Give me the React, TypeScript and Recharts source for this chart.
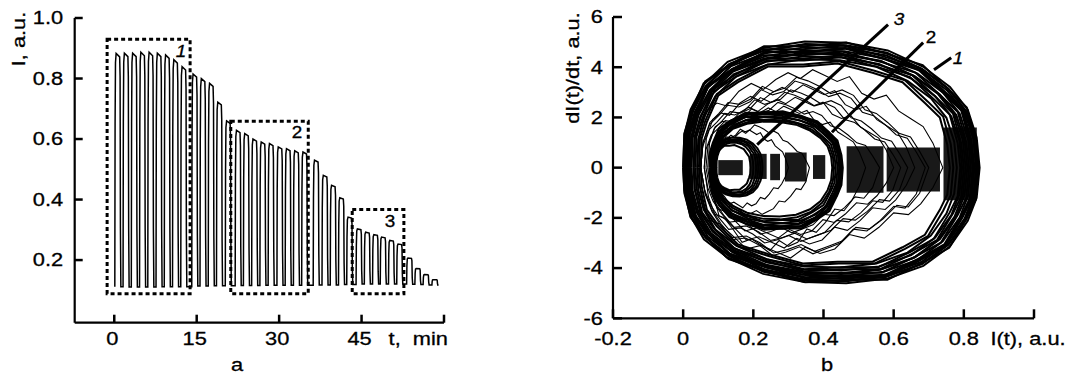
import React from 'react';
import { ScatterChart, Scatter, XAxis, YAxis, ReferenceArea } from 'recharts';

// ---------- panel a : I(t) ----------
// rise time of each pulse (min), its top and the level it falls back to
const PULSE_T = [
  0.1, 1.6, 3.1, 4.6, 6.1, 7.6, 9.1, 10.6, 12.1,
  14.1, 15.6, 17.1, 18.6, 20.2,
  22.0, 23.5, 25.0, 26.5, 28.0, 29.6, 31.1, 32.6, 34.1,
  36.2, 37.8, 39.3, 40.8, 42.3,
  44.0, 45.5, 47.0, 48.4, 49.9, 51.4,
  53.2, 54.7, 56.2, 57.8,
];
const PULSE_PEAK = [
  0.883, 0.884, 0.884, 0.887, 0.887, 0.884, 0.878, 0.862, 0.839,
  0.815, 0.8, 0.784, 0.722, 0.66,
  0.629, 0.618, 0.6, 0.59, 0.585, 0.574, 0.568, 0.561, 0.557,
  0.53, 0.48, 0.447, 0.406, 0.342,
  0.303, 0.292, 0.284, 0.276, 0.265, 0.253,
  0.207, 0.172, 0.152, 0.135,
];
const PULSE_BASE = [
  0.112, 0.111, 0.111, 0.111, 0.111, 0.112, 0.112, 0.112, 0.112,
  0.114, 0.114, 0.115, 0.115, 0.115,
  0.116, 0.116, 0.116, 0.117, 0.117, 0.117, 0.117, 0.117, 0.117,
  0.118, 0.118, 0.118, 0.119, 0.119,
  0.121, 0.121, 0.121, 0.121, 0.121, 0.121,
  0.12, 0.119, 0.118, 0.117,
];
// outline of one pulse: time after rise, fraction of the step
const PULSE_DT = [0, 0.05, 0.12, 0.24, 0.88, 0.96, 1.02, 1.1];
const PULSE_K = [0, 0.7, 0.96, 1, 0.985, 0.9, 0.25, 0];
const END_T = 59.0;
const END_BASE = 0.117;

const BOX_T1 = [-1.3, 21.2, 43.3];
const BOX_T2 = [13.8, 35.3, 52.7];
const BOX_TOP = [0.93, 0.659, 0.367];
const BOX_BOTTOM = 0.089;

const A_XTICKS = [0, 15, 30, 45, 60];
const A_YTICKS = [0.2, 0.4, 0.6, 0.8, 1.0];

// ---------- panel b : phase portrait ----------
// loop outlines (fraction across I, fraction of the max / min slope)
const SMOOTH_U = [0, 0.004, 0.025, 0.07, 0.15, 0.27, 0.41, 0.55, 0.69, 0.81, 0.9, 0.96, 0.99, 1,
  0.99, 0.96, 0.9, 0.81, 0.69, 0.55, 0.41, 0.27, 0.15, 0.07, 0.025, 0.004, 0];
const SMOOTH_V = [0, 0.26, 0.46, 0.66, 0.84, 0.95, 1, 0.99, 0.93, 0.8, 0.64, 0.46, 0.24, 0,
  -0.26, -0.46, -0.68, -0.85, -0.96, -1, -0.99, -0.92, -0.78, -0.62, -0.42, -0.22, 0];
const WIGGLE_V = [0, 0.28, 0.44, 0.69, 0.82, 0.97, 0.97, 1.0, 0.91, 0.82, 0.62, 0.48, 0.22, 0,
  -0.28, -0.44, -0.7, -0.83, -0.98, -0.98, -1.0, -0.9, -0.8, -0.6, -0.44, -0.2, 0];
const JAG_U = [0, 0.01, 0.04, 0.08, 0.12, 0.17, 0.22, 0.27, 0.32, 0.37, 0.42, 0.47, 0.52, 0.57,
  0.62, 0.67, 0.72, 0.77, 0.82, 0.87, 0.92, 0.96, 1,
  0.96, 0.91, 0.86, 0.8, 0.74, 0.68, 0.62, 0.56, 0.5, 0.44, 0.38, 0.32, 0.26, 0.2, 0.14, 0.09, 0.05, 0.02, 0];
const JAG_A_V = [0, 0.35, 0.58, 0.66, 0.63, 0.78, 0.86, 0.8, 0.9, 0.97, 0.91, 1.0, 0.94, 0.88,
  0.93, 0.76, 0.7, 0.74, 0.58, 0.5, 0.42, 0.25, 0,
  -0.22, -0.4, -0.52, -0.5, -0.66, -0.78, -0.74, -0.9, -0.95, -0.88, -1.0, -0.93, -0.86, -0.9, -0.74, -0.62, -0.58, -0.36, 0];
const JAG_B_V = [0, 0.28, 0.5, 0.6, 0.72, 0.7, 0.76, 0.9, 0.84, 0.88, 1.0, 0.96, 0.9, 0.82,
  0.86, 0.8, 0.64, 0.6, 0.5, 0.38, 0.34, 0.18, 0,
  -0.3, -0.46, -0.44, -0.6, -0.72, -0.7, -0.86, -0.92, -0.98, -0.9, -0.96, -1.0, -0.88, -0.8, -0.82, -0.66, -0.5, -0.3, 0];
const SHAPE_U = [SMOOTH_U, SMOOTH_U, JAG_U, JAG_U];
const SHAPE_V = [SMOOTH_V, WIGGLE_V, JAG_A_V, JAG_B_V];

// one entry per loop: I range, max and min dI/dt, outline used
const LOOP_LO = [
  0.0, 0.004, 0.008, 0.0, 0.012, 0.016, 0.02, 0.01, 0.024, 0.03, 0.005, 0.035, 0.04, 0.045, 0.02, 0.05, 0.015, 0.03,
  0.075, 0.078, 0.082, 0.085, 0.08, 0.088, 0.085, 0.09, 0.082, 0.092,
  0.082, 0.085, 0.088, 0.09, 0.095, 0.09, 0.09, 0.09,
  0.04, 0.05, 0.06, 0.05, 0.07, 0.06, 0.08, 0.05, 0.065,
];
const LOOP_HI = [
  0.845, 0.842, 0.838, 0.83, 0.835, 0.825, 0.82, 0.815, 0.81, 0.8, 0.84, 0.79, 0.78, 0.77, 0.805, 0.76, 0.828, 0.795,
  0.455, 0.452, 0.448, 0.445, 0.44, 0.445, 0.435, 0.43, 0.45, 0.425,
  0.226, 0.22, 0.214, 0.208, 0.2, 0.192, 0.3, 0.36,
  0.74, 0.7, 0.66, 0.62, 0.6, 0.56, 0.52, 0.69, 0.64,
];
const LOOP_UP = [
  5.02, 4.98, 4.92, 4.86, 4.8, 4.74, 4.68, 4.62, 4.55, 4.48, 4.9, 4.4, 4.32, 4.24, 4.58, 4.15, 4.76, 4.44,
  2.25, 2.22, 2.18, 2.14, 2.08, 2.02, 1.96, 1.9, 2.2, 1.84,
  1.2, 1.15, 1.1, 1.05, 1.0, 0.9, 1.5, 1.7,
  3.9, 3.6, 3.3, 3.0, 2.8, 2.6, 2.45, 3.45, 3.1,
];
const LOOP_DN = [
  -4.6, -4.56, -4.52, -4.47, -4.42, -4.37, -4.32, -4.27, -4.2, -4.13, -4.5, -4.05, -3.98, -3.9, -4.24, -3.82, -4.4, -4.1,
  -2.47, -2.43, -2.38, -2.33, -2.27, -2.2, -2.13, -2.06, -2.4, -1.95,
  -1.15, -1.12, -1.08, -1.02, -0.98, -0.9, -1.6, -1.9,
  -3.6, -3.4, -3.2, -3.0, -2.8, -2.65, -3.3, -3.5, -2.9,
];
const LOOP_SHAPE = [
  0, 1, 0, 1, 0, 1, 0, 1, 0, 1, 0, 1, 0, 1, 0, 1, 1, 0,
  1, 0, 1, 0, 1, 0, 1, 0, 1, 0,
  0, 1, 0, 1, 0, 1, 2, 3,
  2, 3, 2, 3, 2, 3, 2, 3, 3,
];

// dense flat-part clusters near dI/dt = 0
const BAND_X1 = [0.1, 0.19, 0.248, 0.29, 0.37, 0.466, 0.58, 0.742];
const BAND_X2 = [0.17, 0.238, 0.276, 0.352, 0.405, 0.571, 0.732, 0.837];
const BAND_Y1 = [-0.3, -0.45, -0.5, -0.55, -0.45, -1.0, -0.95, -1.3];
const BAND_Y2 = [0.3, 0.55, 0.55, 0.6, 0.5, 0.85, 0.8, 1.6];

// pointer lines 3, 2, 1
const PTR_X1 = [0.584, 0.684, 0.764];
const PTR_Y1 = [5.7, 4.98, 4.38];
const PTR_X2 = [0.211, 0.424, 0.715];
const PTR_Y2 = [0.92, 1.41, 3.9];

const B_XTICKS = [-0.2, 0, 0.2, 0.4, 0.6, 0.8, 1.0];
const B_YTICKS = [-6, -4, -2, 0, 2, 4, 6];

// ---------- build series ----------
const signal: { x: number; y: number }[] = [];
PULSE_T.forEach((t0, i) => {
  const before = i === 0 ? PULSE_BASE[0] : PULSE_BASE[i - 1];
  PULSE_DT.forEach((dt, j) => {
    const base = j < 4 ? before : PULSE_BASE[i];
    signal.push({ x: t0 + dt, y: base + PULSE_K[j] * (PULSE_PEAK[i] - base) });
  });
});
signal.push({ x: END_T, y: END_BASE });

const loops = LOOP_LO.map((lo, i) => {
  const u = SHAPE_U[LOOP_SHAPE[i]];
  const v = SHAPE_V[LOOP_SHAPE[i]];
  return u.map((f, j) => ({
    x: lo + f * (LOOP_HI[i] - lo),
    y: v[j] >= 0 ? v[j] * LOOP_UP[i] : -v[j] * LOOP_DN[i],
  }));
});

const pointers = PTR_X1.map((x, i) => [
  { x, y: PTR_Y1[i] },
  { x: PTR_X2[i], y: PTR_Y2[i] },
]);

// ---------- drawing helpers ----------
const FONT = '"Liberation Sans", Arial, sans-serif';

function Txt({ x, y, children, anchor = 'middle', rotate = 0, italic = false, size = 18.5 }: any) {
  return (
    <text
      transform={`translate(${x},${y}) rotate(${rotate}) scale(1.18,1)`}
      textAnchor={anchor}
      dominantBaseline="central"
      fontFamily={FONT}
      fontSize={size}
      fontStyle={italic ? 'italic' : 'normal'}
      fill="#000"
      stroke="#000"
      strokeWidth={0.3}
    >
      {children}
    </text>
  );
}

const NoDot = () => <g />;

function ATickX({ x, y, payload }: any) {
  const v = payload.value;
  return (
    <g>
      <line x1={x} y1={y} x2={x} y2={y - 8} stroke="#000" strokeWidth={2.5} />
      {v === 60 ? (
        <Txt x={x + 4} y={y + 16} anchor="end">{'t,\u00a0 min'}</Txt>
      ) : (
        <Txt x={x - 2} y={y + 16}>{String(v)}</Txt>
      )}
    </g>
  );
}

function ATickY({ x, y, payload }: any) {
  return (
    <g>
      <line x1={x} y1={y} x2={x + 8} y2={y} stroke="#000" strokeWidth={2.5} />
      <Txt x={x - 11.5} y={y} anchor="end">{payload.value.toFixed(1)}</Txt>
    </g>
  );
}

function BTickX({ x, y, payload }: any) {
  const v = payload.value;
  return (
    <g>
      <line x1={x} y1={y} x2={x} y2={y - 9} stroke="#000" strokeWidth={2.5} />
      {v === 1 ? (
        <Txt x={x - 6} y={y + 20}>{'I(t), a.u.'}</Txt>
      ) : (
        <Txt x={x} y={y + 20}>{String(v)}</Txt>
      )}
    </g>
  );
}

function BTickY({ x, y, payload }: any) {
  return (
    <g>
      <line x1={x} y1={y} x2={x + 9} y2={y} stroke="#000" strokeWidth={2.5} />
      <Txt x={x - 10} y={y} anchor="end">{String(payload.value)}</Txt>
    </g>
  );
}

const AXIS = { stroke: '#000', strokeWidth: 2.2 };
const AX_H = 30;
const AX_W = 40;

function PanelA() {
  return (
    <ScatterChart
      width={540}
      height={376}
      margin={{ top: 18, right: 96, bottom: 53.3 - AX_H, left: 74.7 - AX_W }}
    >
      <XAxis
        type="number"
        dataKey="x"
        domain={[-7.2, 60]}
        ticks={A_XTICKS}
        allowDataOverflow
        height={AX_H}
        axisLine={AXIS}
        tickLine={false}
        tickSize={0}
        tickMargin={0}
        tick={<ATickX />}
        interval={0}
      />
      <YAxis
        type="number"
        dataKey="y"
        domain={[-0.007, 1]}
        ticks={A_YTICKS}
        allowDataOverflow
        width={AX_W}
        axisLine={AXIS}
        tickLine={false}
        tickSize={0}
        tickMargin={0}
        tick={<ATickY />}
        interval={0}
      />
      {BOX_T1.map((t1, i) => (
        <ReferenceArea
          key={'box' + i}
          x1={t1}
          x2={BOX_T2[i]}
          y1={BOX_BOTTOM}
          y2={BOX_TOP[i]}
          fill="none"
          stroke="#000"
          strokeWidth={3}
          strokeDasharray="4 3"
        />
      ))}
      <Scatter
        data={signal}
        line={{ stroke: '#000', strokeWidth: 1.5 }}
        lineJointType="linear"
        shape={NoDot}
        isAnimationActive={false}
      />
    </ScatterChart>
  );
}

function PanelB() {
  return (
    <ScatterChart
      width={531}
      height={376}
      margin={{ top: 17, right: 37, bottom: 57.7 - AX_H, left: 73 - AX_W }}
    >
      <XAxis
        type="number"
        dataKey="x"
        domain={[-0.2, 1.0]}
        ticks={B_XTICKS}
        allowDataOverflow
        height={AX_H}
        axisLine={AXIS}
        tickLine={false}
        tickSize={0}
        tickMargin={0}
        tick={<BTickX />}
        interval={0}
      />
      <YAxis
        type="number"
        dataKey="y"
        domain={[-6, 6]}
        ticks={B_YTICKS}
        allowDataOverflow
        width={AX_W}
        axisLine={AXIS}
        tickLine={false}
        tickSize={0}
        tickMargin={0}
        tick={<BTickY />}
        interval={0}
      />
      {BAND_X1.map((x1, i) => (
        <ReferenceArea
          key={'band' + i}
          x1={x1}
          x2={BAND_X2[i]}
          y1={BAND_Y1[i]}
          y2={BAND_Y2[i]}
          fill="#000"
          fillOpacity={0.9}
          stroke="none"
        />
      ))}
      {loops.map((pts, i) => (
        <Scatter
          key={'loop' + i}
          data={pts}
          line={{ stroke: '#000', strokeWidth: LOOP_SHAPE[i] >= 2 ? 1.1 : 2 }}
          lineJointType="linear"
          shape={NoDot}
          isAnimationActive={false}
        />
      ))}
      {pointers.map((pts, i) => (
        <Scatter
          key={'ptr' + i}
          data={pts}
          line={{ stroke: '#000', strokeWidth: 3 }}
          lineJointType="linear"
          shape={NoDot}
          isAnimationActive={false}
        />
      ))}
    </ScatterChart>
  );
}

export default function App() {
  return (
    <div style={{ position: 'absolute', left: 0, top: 0, width: 1071, height: 376, background: '#fff' }}>
      <div style={{ position: 'absolute', left: 0, top: 0 }}>
        <PanelA />
      </div>
      <div style={{ position: 'absolute', left: 540, top: 0 }}>
        <PanelB />
      </div>
      <svg
        width={1071}
        height={376}
        style={{ position: 'absolute', left: 0, top: 0, pointerEvents: 'none' }}
      >
        <Txt x={19} y={39} rotate={-90}>I, a.u.</Txt>
        <Txt x={573} y={68} rotate={-90}>dI(t)/dt, a.u.</Txt>
        <Txt x={237} y={365}>a</Txt>
        <Txt x={827} y={365}>b</Txt>
        <Txt x={181} y={52} size={16} italic>1</Txt>
        <Txt x={297} y={133} size={16}>2</Txt>
        <Txt x={390} y={222} size={16}>3</Txt>
        <Txt x={899} y={20} size={16} italic>3</Txt>
        <Txt x={931} y={38} size={16}>2</Txt>
        <Txt x={958} y={59} size={16} italic>1</Txt>
      </svg>
    </div>
  );
}
